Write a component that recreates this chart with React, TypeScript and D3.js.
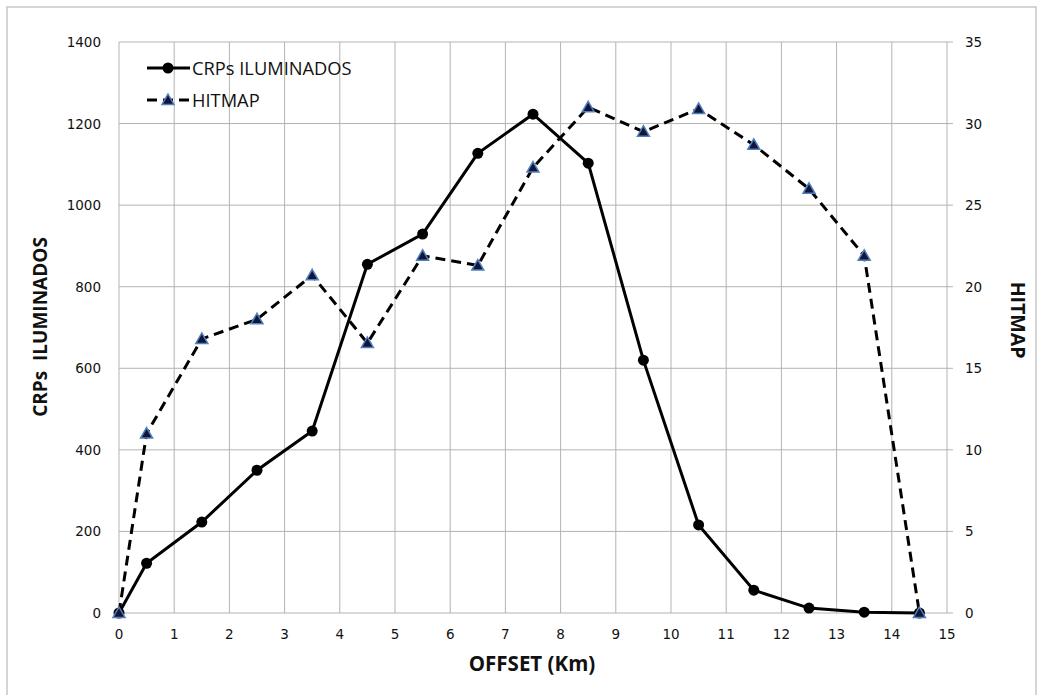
import React from "react";
import * as d3 from "d3";

const offsets = [0, 0.5, 1.5, 2.5, 3.5, 4.5, 5.5, 6.5, 7.5, 8.5, 9.5, 10.5, 11.5, 12.5, 13.5, 14.5];
const crps = [0, 122, 223, 350, 446, 855, 929, 1127, 1223, 1103, 620, 216, 56, 12, 2, 0];
const hitmap = [0, 11.0, 16.8, 18.0, 20.7, 16.55, 21.9, 21.3, 27.3, 31.0, 29.5, 30.9, 28.7, 26.0, 21.9, 0];
const xTicks = d3.range(0, 16, 1);
const yLeftTicks = [0, 200, 400, 600, 800, 1000, 1200, 1400];
const yRightTicks = [0, 5, 10, 15, 20, 25, 30, 35];

const W = 1039, H = 695;
const x = d3.scaleLinear().domain([0, 15]).range([119, 947]);
const yL = d3.scaleLinear().domain([0, 1400]).range([613, 42]);
const yR = d3.scaleLinear().domain([0, 35]).range([613, 42]);

const tickFont = "'DejaVu Sans', Verdana, sans-serif";
const titleFont = "'Open Sans', 'Liberation Sans', sans-serif";

export default function App() {
  const lineL = d3.line<number>().x((_, i) => x(offsets[i])).y((d) => yL(d))(crps) || "";
  const lineR = d3.line<number>().x((_, i) => x(offsets[i])).y((d) => yR(d))(hitmap) || "";
  const tri = (cx: number, cy: number, s = 6) =>
    `M${cx},${cy - s}L${cx + s},${cy + s * 0.75}L${cx - s},${cy + s * 0.75}Z`;
  return (
    <svg width={W} height={H} style={{ position: "absolute", left: 0, top: 0, background: "#fff" }}>
      <rect x={7} y={7} width={1029} height={700} fill="#fff" stroke="#c8c8c8" strokeWidth={1.5} />
      {/* grid */}
      {xTicks.map((t) => (
        <line key={"gx" + t} x1={x(t)} x2={x(t)} y1={yL(1400)} y2={yL(0)} stroke="#b3b3b3" strokeWidth={1} />
      ))}
      {yLeftTicks.map((t) => (
        <line key={"gy" + t} x1={x(0)} x2={x(15) + 6} y1={yL(t)} y2={yL(t)} stroke="#b3b3b3" strokeWidth={1} />
      ))}
      {/* tick labels */}
      {xTicks.map((t) => (
        <text key={"tx" + t} x={x(t)} y={639} textAnchor="middle" fontFamily={tickFont} fontSize={13.5} fill="#111">
          {t}
        </text>
      ))}
      {yLeftTicks.map((t) => (
        <text key={"tl" + t} x={101} y={yL(t) + 5} textAnchor="end" fontFamily={tickFont} fontSize={13.5} fill="#111">
          {t}
        </text>
      ))}
      {yRightTicks.map((t) => (
        <text key={"tr" + t} x={965} y={yR(t) + 5} textAnchor="start" fontFamily={tickFont} fontSize={13.5} fill="#111">
          {t}
        </text>
      ))}
      {/* axis titles */}
      <text x={532} y={671} textAnchor="middle" fontFamily={titleFont} fontWeight="bold" fontSize={20.5} fill="#111">
        OFFSET (Km)
      </text>
      <text
        transform={`translate(47,${327}) rotate(-90)`}
        textAnchor="middle"
        fontFamily={titleFont}
        fontWeight="bold"
        fontSize={19}
        fill="#111"
        style={{ whiteSpace: "pre" }}
      >
        {"CRPs  ILUMINADOS"}
      </text>
      <text
        transform={`translate(1011,${320}) rotate(90)`}
        textAnchor="middle"
        fontFamily={titleFont}
        fontWeight="bold"
        fontSize={19.5}
        fill="#111"
      >
        HITMAP
      </text>
      {/* series */}
      <path d={lineR} fill="none" stroke="#000" strokeWidth={3} strokeDasharray="10,6" />
      <path d={lineL} fill="none" stroke="#000" strokeWidth={3} />
      {crps.map((d, i) => (
        <circle key={"c" + i} cx={x(offsets[i])} cy={yL(d)} r={5.5} fill="#000" />
      ))}
      {hitmap.map((d, i) => (
        <path key={"t" + i} d={tri(x(offsets[i]), yR(d))} fill="#14143a" stroke="#4f81bd" strokeWidth={1.5} />
      ))}
      {/* legend */}
      <line x1={147} x2={190} y1={68} y2={68} stroke="#000" strokeWidth={3} />
      <circle cx={168} cy={68} r={5.5} fill="#000" />
      <text x={192} y={75} fontFamily={titleFont} fontSize={18.3} fill="#111">
        CRPs ILUMINADOS
      </text>
      <line x1={147} x2={190} y1={100} y2={100} stroke="#000" strokeWidth={3} strokeDasharray="10,6" />
      <path d={tri(168, 100)} fill="#14143a" stroke="#4f81bd" strokeWidth={1.5} />
      <text x={192} y={107} fontFamily={titleFont} fontSize={18.3} fill="#111">
        HITMAP
      </text>
    </svg>
  );
}
